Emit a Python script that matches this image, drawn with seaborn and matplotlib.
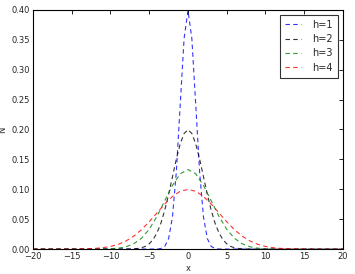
import matplotlib
matplotlib.use("Agg")
import matplotlib.pyplot as plt
import seaborn as sns
import pandas as pd

# Values (approximate)
x_h1 = [-20, -5, -4.5, -4, -3.5, -3, -2.5, -2, -1.5, -1, -0.5, 0,
        0.5, 1, 1.5, 2, 2.5, 3, 3.5, 4, 4.5, 5, 20]
y_h1 = [0.0, 0.0, 0.0, 0.0001, 0.0009, 0.0044, 0.0175, 0.0540, 0.1295, 0.2420, 0.3521, 0.3989,
        0.3521, 0.2420, 0.1295, 0.0540, 0.0175, 0.0044, 0.0009, 0.0001, 0.0, 0.0, 0.0]

x_h2 = [-20, -9, -8, -7.5, -7, -6.5, -6, -5.5, -5, -4.5, -4, -3.5, -3, -2.5, -2, -1.5, -1, -0.5, 0,
        0.5, 1, 1.5, 2, 2.5, 3, 3.5, 4, 4.5, 5, 5.5, 6, 6.5, 7, 7.5, 8, 9, 20]
y_h2 = [0.0, 0.0, 0.0001, 0.0002, 0.0004, 0.0010, 0.0022, 0.0045, 0.0088, 0.0159, 0.0270, 0.0431,
        0.0648, 0.0913, 0.1210, 0.1506, 0.1760, 0.1933, 0.1995,
        0.1933, 0.1760, 0.1506, 0.1210, 0.0913, 0.0648, 0.0431, 0.0270, 0.0159, 0.0088, 0.0045,
        0.0022, 0.0010, 0.0004, 0.0002, 0.0001, 0.0, 0.0]

x_h3 = [-20, -13, -12, -11, -10, -9, -8, -7, -6, -5, -4, -3, -2, -1, 0,
        1, 2, 3, 4, 5, 6, 7, 8, 9, 10, 11, 12, 13, 20]
y_h3 = [0.0, 0.0, 0.0, 0.0002, 0.0005, 0.0015, 0.0038, 0.0088, 0.0180, 0.0331, 0.0547, 0.0807,
        0.1065, 0.1258, 0.1330,
        0.1258, 0.1065, 0.0807, 0.0547, 0.0331, 0.0180, 0.0088, 0.0038, 0.0015, 0.0005, 0.0002,
        0.0, 0.0, 0.0]

x_h4 = [-20, -17, -16, -15, -14, -13, -12, -11, -10, -9, -8, -7, -6, -5, -4, -3, -2, -1, 0,
        1, 2, 3, 4, 5, 6, 7, 8, 9, 10, 11, 12, 13, 14, 15, 16, 17, 20]
y_h4 = [0.0, 0.0, 0.0, 0.0001, 0.0002, 0.0005, 0.0011, 0.0023, 0.0044, 0.0079, 0.0135, 0.0216,
        0.0324, 0.0457, 0.0605, 0.0753, 0.0880, 0.0967, 0.0997,
        0.0967, 0.0880, 0.0753, 0.0605, 0.0457, 0.0324, 0.0216, 0.0135, 0.0079, 0.0044, 0.0023,
        0.0011, 0.0005, 0.0002, 0.0001, 0.0, 0.0, 0.0]

labels = ["h=1", "h=2", "h=3", "h=4"]
colors = ["blue", "black", "green", "red"]
series = [(x_h1, y_h1), (x_h2, y_h2), (x_h3, y_h3), (x_h4, y_h4)]

sns.set_style("white")
plt.rcParams["font.family"] = ["DejaVu Sans"]

fig = plt.figure(figsize=(3.55, 2.74), dpi=100)
ax = fig.add_axes([0.093, 0.091, 0.873, 0.873])

for (xs, ys), lab, col in zip(series, labels, colors):
    df = pd.DataFrame({"x": xs, "N": ys})
    sns.lineplot(data=df, x="x", y="N", ax=ax, color=col, label=lab,
                 linestyle=(0, (4, 3)), linewidth=0.8, alpha=0.8)

ax.set_xlim(-20, 20)
ax.set_ylim(0, 0.40)
ax.set_xticks([-20, -15, -10, -5, 0, 5, 10, 15, 20])
ax.set_yticks([0.0, 0.05, 0.10, 0.15, 0.20, 0.25, 0.30, 0.35, 0.40])
ax.set_yticklabels(["0.00", "0.05", "0.10", "0.15", "0.20", "0.25", "0.30", "0.35", "0.40"])
ax.tick_params(direction="in", top=True, right=True, length=3, width=0.6,
               labelsize=6, pad=2, color="black")
for s in ax.spines.values():
    s.set_color("black")
    s.set_linewidth(0.8)
ax.set_xlabel("x", fontsize=6, labelpad=2)
ax.set_ylabel("N", fontsize=6, labelpad=3)

leg = ax.legend(loc="upper right", fontsize=7, fancybox=False, frameon=True,
                handlelength=1.6, handletextpad=1.2, borderpad=0.5,
                labelspacing=0.45, borderaxespad=0.5)
leg.get_frame().set_edgecolor("black")
leg.get_frame().set_linewidth(0.8)

fig.savefig("out.png", dpi=100)
